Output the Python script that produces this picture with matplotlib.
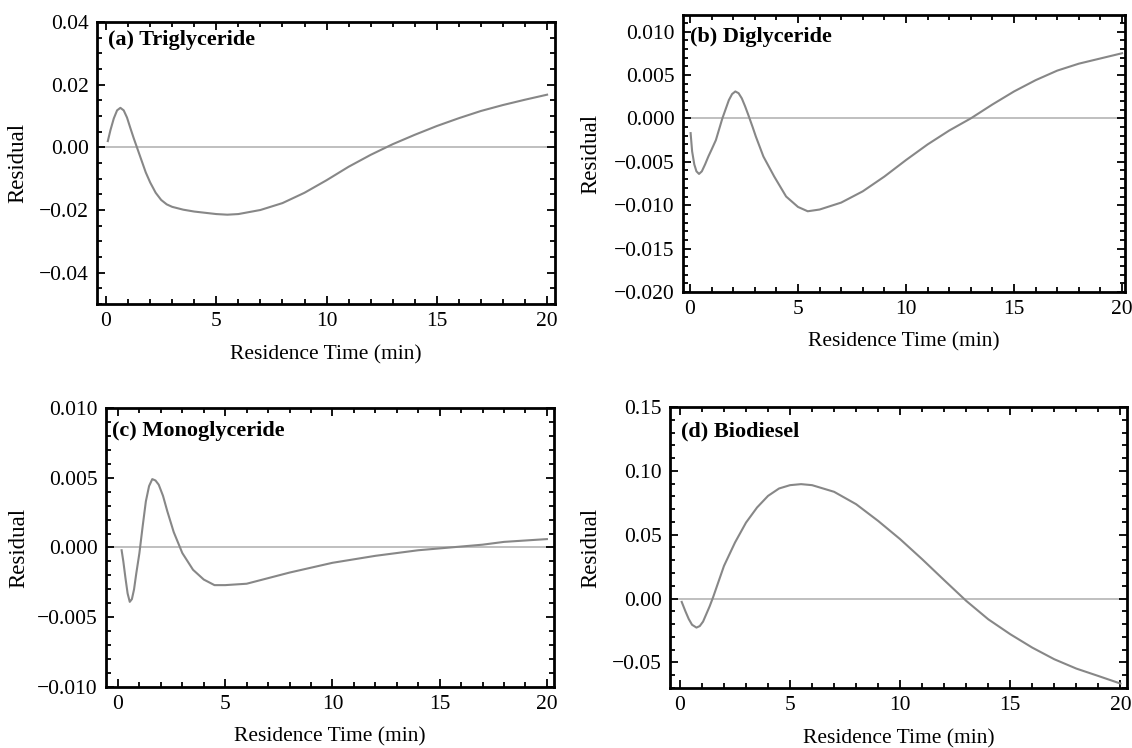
import numpy as np
import matplotlib.pyplot as plt
from matplotlib.ticker import MultipleLocator

# Residuals (time in min).
tg_time = [0.08, 0.2, 0.35, 0.5, 0.65, 0.8, 0.95, 1.1, 1.25, 1.4, 1.6, 1.8, 2.0, 2.25,
           2.5, 2.75, 3.0, 3.5, 4.0, 5.0, 5.5, 6.0, 7.0, 8.0, 9.0, 10.0, 11.0, 12.0,
           13.0, 14.0, 15.0, 16.0, 17.0, 18.0, 19.0, 20.0]
tg_resid = [0.0020, 0.0055, 0.0092, 0.0118, 0.0126, 0.0118, 0.0095, 0.0062, 0.0030,
            0.0000, -0.0040, -0.0080, -0.0112, -0.0145, -0.0168, -0.0182, -0.0190,
            -0.0199, -0.0205, -0.0213, -0.0215, -0.0213, -0.0200, -0.0178, -0.0145,
            -0.0105, -0.0062, -0.0024, 0.0010, 0.0040, 0.0068, 0.0093, 0.0116, 0.0135,
            0.0152, 0.0168]

dg_time = [0.03, 0.1, 0.2, 0.3, 0.42, 0.55, 0.7, 0.85, 1.0, 1.2, 1.5, 1.8, 1.95, 2.1,
           2.25, 2.4, 2.55, 2.7, 2.9, 3.05, 3.4, 3.9, 4.45, 5.0, 5.45, 6.0, 7.0, 8.0,
           9.0, 10.0, 11.0, 12.0, 13.0, 14.0, 15.0, 16.0, 17.0, 18.0, 19.0, 20.0]
dg_resid = [-0.0017, -0.0038, -0.0053, -0.0061, -0.0064, -0.0061, -0.0053, -0.0044,
            -0.0036, -0.0025, 0.0000, 0.0021, 0.0028, 0.0031, 0.0029, 0.0023, 0.0014,
            0.0004, -0.0010, -0.0021, -0.0044, -0.0067, -0.0090, -0.0102, -0.0107,
            -0.0105, -0.0097, -0.0084, -0.0067, -0.0048, -0.0030, -0.0014, 0.0000,
            0.0016, 0.0031, 0.0044, 0.0055, 0.0063, 0.0069, 0.0075]

mg_time = [0.17, 0.25, 0.35, 0.45, 0.55, 0.65, 0.75, 0.85, 1.0, 1.15, 1.3, 1.45, 1.6,
           1.75, 1.9, 2.1, 2.3, 2.6, 3.0, 3.5, 4.0, 4.5, 5.0, 6.0, 7.0, 8.0, 10.0, 12.0,
           14.0, 15.5, 17.0, 18.0, 20.0]
mg_resid = [-0.0002, -0.0010, -0.0022, -0.0033, -0.0039, -0.0037, -0.0030, -0.0019,
            -0.0004, 0.0015, 0.0033, 0.0044, 0.0049, 0.0048, 0.0045, 0.0037, 0.0026,
            0.0011, -0.0004, -0.0016, -0.0023, -0.0027, -0.0027, -0.0026, -0.0022,
            -0.0018, -0.0011, -0.0006, -0.0002, 0.0000, 0.0002, 0.0004, 0.0006]

bd_time = [0.08, 0.25, 0.4, 0.55, 0.75, 0.9, 1.05, 1.2, 1.35, 1.5, 2.0, 2.5, 3.0, 3.5,
           4.0, 4.5, 5.0, 5.5, 6.0, 7.0, 8.0, 9.0, 10.0, 11.0, 12.0, 13.0, 14.0, 15.0,
           16.0, 17.0, 18.0, 19.0, 20.0]
bd_resid = [-0.0026, -0.0100, -0.0160, -0.0205, -0.0227, -0.0215, -0.0180, -0.0120,
            -0.0060, 0.0008, 0.0256, 0.0439, 0.0595, 0.0713, 0.0804, 0.0862, 0.0888,
            0.0896, 0.0888, 0.0836, 0.0739, 0.0608, 0.0465, 0.0308, 0.0144, -0.0018,
            -0.0162, -0.0279, -0.0384, -0.0475, -0.0548, -0.0606, -0.0665]

panel_titles = ["(a) Triglyceride", "(b) Diglyceride", "(c) Monoglyceride", "(d) Biodiesel"]

plt.rcParams["font.family"] = ["Liberation Serif", "DejaVu Serif"]

fig = plt.figure(figsize=(11.32, 7.48), dpi=100)

# rect, xlim, ylim, major/minor y step, title pos, ylabel x
panels = [
    dict(rect=[0.0857, 0.5936, 0.4046, 0.377], t=tg_time, r=tg_resid,
         xlim=(-0.41, 20.36), ylim=(-0.05, 0.04), ymaj=0.02, ymin=0.005, fmt="%.2f",
         tpos=(0.024, 0.97), ylx=-0.15),
    dict(rect=[0.6034, 0.6096, 0.3905, 0.3703], t=dg_time, r=dg_resid,
         xlim=(-0.32, 20.14), ylim=(-0.020, 0.0119), ymaj=0.005, ymin=0.001, fmt="%.3f",
         tpos=(0.016, 0.957), ylx=-0.185),
    dict(rect=[0.0936, 0.0816, 0.3958, 0.373], t=mg_time, r=mg_resid,
         xlim=(-0.56, 20.33), ylim=(-0.010, 0.010), ymaj=0.005, ymin=0.001, fmt="%.3f",
         tpos=(0.013, 0.953), ylx=-0.17),
    dict(rect=[0.5919, 0.0802, 0.4037, 0.3757], t=bd_time, r=bd_resid,
         xlim=(-0.45, 20.3), ylim=(-0.07, 0.15), ymaj=0.05, ymin=0.01, fmt="%.2f",
         tpos=(0.024, 0.95), ylx=-0.15),
]

for p, title in zip(panels, panel_titles):
    ax = fig.add_axes(p["rect"])
    ax.axhline(0, color="#b4b4b4", lw=1.2, zorder=1)
    ax.plot(p["t"], p["r"], color="#878787", lw=1.5, zorder=2)

    ax.set_xlim(*p["xlim"])
    ax.set_ylim(*p["ylim"])
    ax.xaxis.set_major_locator(MultipleLocator(5))
    ax.xaxis.set_minor_locator(MultipleLocator(1))
    ax.yaxis.set_major_locator(MultipleLocator(p["ymaj"]))
    ax.yaxis.set_minor_locator(MultipleLocator(p["ymin"]))
    fmt = p["fmt"]
    ax.yaxis.set_major_formatter(
        plt.FuncFormatter(lambda v, pos, f=fmt: (f % v).replace("-", "\u2212")
                          if abs(v) > 1e-12 else f % 0.0))

    # Mathematica-style frame: inward ticks on every side.
    ax.tick_params(which="both", direction="in", top=True, right=True,
                   width=1.3, labelsize=15.5, pad=6)
    ax.tick_params(which="major", length=6)
    ax.tick_params(which="minor", length=3.5)
    for s in ax.spines.values():
        s.set_linewidth(2.0)

    ax.set_xlabel("Residence Time (min)", fontsize=15.5)
    ax.xaxis.set_label_coords(0.5, -0.145)
    ax.set_ylabel("Residual", fontsize=16.5)
    ax.yaxis.set_label_coords(p["ylx"], 0.5)

    ax.text(p["tpos"][0], p["tpos"][1], title, transform=ax.transAxes,
            ha="left", va="top", fontsize=16, fontweight="bold")

plt.savefig("out.png", dpi=100)
